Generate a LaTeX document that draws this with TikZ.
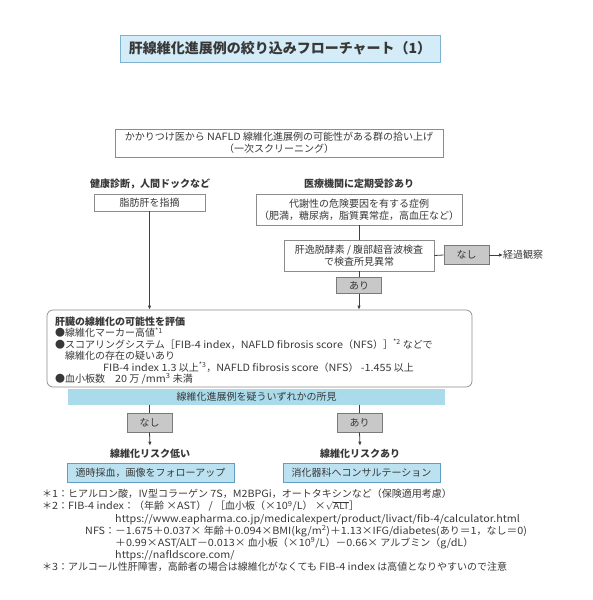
\documentclass[tikz,border=0pt]{standalone}
\usepackage{amsmath}
\usepackage{fontspec}
\setmainfont{Noto Sans CJK JP}
\newfontfamily\widelatin[FakeStretch=1.08]{Noto Sans CJK JP}
\newcommand{\wl}[1]{{\widelatin #1}}
\usetikzlibrary{arrows.meta}
\definecolor{txt}{HTML}{383838}
\definecolor{boxline}{HTML}{8C8C8C}
\definecolor{grayfill}{HTML}{C8C8C8}
\definecolor{grayline}{HTML}{7A7A7A}
\definecolor{titlefill}{HTML}{D3ECF7}
\definecolor{titleline}{HTML}{7DB3CE}
\definecolor{barfill}{HTML}{A9DBEB}
\definecolor{bluefill}{HTML}{BCE2F1}
\definecolor{blueline}{HTML}{5E9EC2}
\definecolor{lineclr}{HTML}{404040}

\begin{document}
\begin{tikzpicture}[x=1pt, y=-1pt, text=txt,
  font=\fontsize{10}{12}\selectfont,
  box/.style={draw=boxline, line width=0.6pt, fill=white, inner sep=0pt, align=center},
  graybox/.style={draw=grayline, line width=0.6pt, fill=grayfill, inner sep=0pt,
    minimum width=45pt, minimum height=19pt},
  bluebox/.style={draw=blueline, line width=0.7pt, fill=bluefill, inner sep=0pt,
    minimum height=19pt},
  head/.style={font=\fontsize{10}{12}\selectfont\bfseries},
  note/.style={anchor=base west, inner sep=0pt},
  line/.style={draw=lineclr, line width=0.8pt},
  arrow/.style={line, -{Latex[length=4pt, width=3.5pt]}}]

  \useasboundingbox (0,0) rectangle (593,600);

  \node[draw=titleline, line width=0.8pt, fill=titlefill, minimum width=320pt,
    minimum height=27pt, inner sep=0pt, font=\fontsize{14}{16}\selectfont\bfseries]
    (title) at (280,48.5) {肝線維化進展例の絞り込みフローチャート（1）};

  \node[box, minimum width=328pt, minimum height=28pt] (pickup) at (279,143)
    {かかりつけ医から \wl{NAFLD} 線維化進展例の可能性がある群の拾い上げ\\（一次スクリーニング）};

  \node[head] (checkup) at (150,184) {健康診断，人間ドックなど};
  \node[head] (clinic) at (359,184) {医療機関に定期受診あり};
  \node[box, minimum width=111pt, minimum height=17pt] (fatty) at (149.5,202.5) {脂肪肝を指摘};
  \node[box, minimum width=206pt, minimum height=31pt] (risk) at (359,209.5)
    {代謝性の危険要因を有する症例\\（肥満，糖尿病，脂質異常症，高血圧など）};
  \node[box, minimum width=150pt, minimum height=31pt] (enzyme) at (359,255.5)
    {肝逸脱酵素 / 腹部超音波検査\\で検査所見異常};
  \node[graybox] (none1) at (466.5,255) {なし};
  \node[anchor=west, inner sep=0pt] (follow) at (503,255) {経過観察};
  \node[graybox, minimum height=16pt] (yes1) at (359,285.5) {あり};

  \node[draw=boxline, line width=0.7pt, rounded corners=6pt, minimum width=425pt,
    minimum height=77pt, inner sep=0pt] (eval) at (259.5,348.5) {};
  \node[note, font=\fontsize{10}{12}\selectfont\bfseries] (eval1) at (55,325.5) {肝臓の線維化の可能性を評価};
  \node[note] (eval2) at (55,336.9) {●線維化マーカー高値\textsuperscript{*1}};
  \node[note] (eval3) at (55,348.3) {●スコアリングシステム［\wl{FIB-4 index}，\wl{NAFLD fibrosis score}（\wl{NFS}）］\textsuperscript{*2} などで};
  \node[note] (eval4) at (65,359.7) {線維化の存在の疑いあり};
  \node[note] (eval5) at (103,371.1) {\wl{FIB-4 index 1.3} 以上\textsuperscript{*3}，\wl{NAFLD fibrosis score}（\wl{NFS}） \wl{-1.455} 以上};
  \node[note] (eval6) at (55,382.5) {●血小板数　\wl{20} 万 \wl{/mm\textsuperscript{3}} 未満};

  \node[fill=barfill, minimum width=377pt, minimum height=16pt, inner sep=0pt]
    (finding) at (256.5,396.5) {線維化進展例を疑ういずれかの所見};

  \node[graybox] (none2) at (149.5,422.5) {なし};
  \node[graybox] (yes2) at (359.5,422.5) {あり};
  \node[head] (low) at (150,454) {線維化リスク低い};
  \node[head] (high) at (360,454) {線維化リスクあり};
  \node[bluebox, minimum width=167pt] (followup) at (150.5,472.5) {適時採血，画像をフォローアップ};
  \node[bluebox, minimum width=157pt] (consult) at (361.5,472.5) {消化器科へコンサルテーション};

  \draw[arrow] (fatty.south) -- (fatty.south |- eval.north);
  \draw[line] (risk.south) -- (enzyme.north);
  \draw[line] (enzyme.east) -- (none1.west);
  \draw[arrow] (none1.east) -- (follow.west);
  \draw[line] (enzyme.south) -- (yes1.north);
  \draw[arrow] (yes1.south) -- (yes1.south |- eval.north);
  \draw[line] (none2.north |- finding.south) -- (none2.north);
  \draw[line] (yes2.north |- finding.south) -- (yes2.north);
  \draw[arrow] (none2.south) -- (low.north);
  \draw[arrow] (yes2.south) -- (high.north);

  \node[note] (fn1) at (42,497.3) {＊\wl{1}：ヒアルロン酸，Ⅳ型コラーゲン \wl{7S}，\wl{M2BPGi}，オートタキシンなど（保険適用考慮）};
  \node[note] (fn2) at (42,509.8) {＊\wl{2}：\wl{FIB-4 index}：（年齢 \wl{×AST}） \wl{/} ［血小板（\wl{×10\textsuperscript{9}/L}） \wl{×}{\fontsize{9}{10}\selectfont\(\sqrt{\text{\wl{ALT}}}\)}］};
  \node[note] (fn3) at (115,522.3) {\wl{https://www.eapharma.co.jp/medicalexpert/product/livact/fib-4/calculator.html}};
  \node[note] (fn4) at (85,534.5) {\wl{NFS}：\wl{－1.675＋0.037×} 年齢\wl{＋0.094×BMI(kg/m\textsuperscript{2})＋1.13×IFG/diabetes(}あり\wl{＝1}，なし\wl{＝0)}};
  \node[note] (fn5) at (115,546.6) {\wl{＋0.99×AST/ALT－0.013×} 血小板（\wl{×10\textsuperscript{9}/L}）\wl{－0.66×} アルブミン（\wl{g/dL}）};
  \node[note] (fn6) at (115,558.7) {\wl{https://nafldscore.com/}};
  \node[note] (fn7) at (42,570.8) {＊\wl{3}：アルコール性肝障害，高齢者の場合は線維化がなくても \wl{FIB-4 index} は高値となりやすいので注意};
\end{tikzpicture}
\end{document}
